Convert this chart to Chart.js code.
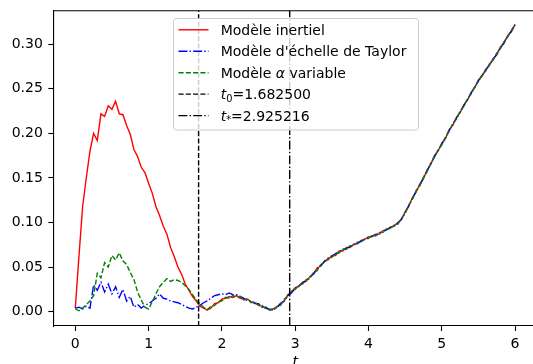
<!DOCTYPE html>
<html lang="fr">
<head>
    <meta charset="UTF-8">
    <title>Comparaison des modèles</title>
    <script src="https://cdn.jsdelivr.net/npm/chart.js"></script>
    <style>
        html, body { margin: 0; padding: 0; background: #fff; }
        #cadre { width: 533px; height: 364px; }
    </style>
</head>
<body>
    <div id="cadre"><canvas id="graphe" width="533" height="364"></canvas></div>

    <script>
        // Grille de temps : pas de 0.05 entre 0 et 6
        const t = Array.from({ length: 121 }, (_, i) => +(i * 0.05).toFixed(2));

        // Valeurs
        const inertiel = [
            0.004, 0.062, 0.118, 0.150, 0.180, 0.200, 0.192, 0.222, 0.219, 0.231,
            0.227, 0.236, 0.222, 0.221, 0.209, 0.199, 0.182, 0.174, 0.162, 0.156,
            0.144, 0.133, 0.118, 0.108, 0.096, 0.087, 0.072, 0.062, 0.050, 0.042,
            0.031, 0.024, 0.017, 0.012, 0.006, 0.004, 0.002,
            0.004, 0.009, 0.010, 0.014, 0.015, 0.017, 0.016, 0.018, 0.015, 0.014,
            0.014, 0.011, 0.010, 0.007, 0.006, 0.004, 0.002, 0.003, 0.005, 0.009,
            0.012, 0.019, 0.022, 0.027, 0.028, 0.033, 0.034, 0.039, 0.043, 0.049,
            0.051, 0.057, 0.058, 0.063, 0.063, 0.068, 0.068, 0.072, 0.072, 0.076,
            0.076, 0.080, 0.081, 0.084, 0.084, 0.087, 0.087, 0.091, 0.092, 0.095,
            0.096, 0.100, 0.103, 0.112, 0.118, 0.128, 0.134, 0.143, 0.149, 0.159,
            0.165, 0.175, 0.180, 0.189, 0.194, 0.204, 0.209, 0.218, 0.223, 0.232,
            0.237, 0.246, 0.251, 0.260, 0.264, 0.272, 0.276, 0.284, 0.288, 0.297,
            0.301, 0.310, 0.314, 0.322
        ];
        const taylor = [
            0.004, 0.005, 0.003, 0.006, 0.004, 0.030, 0.024, 0.033, 0.022, 0.031,
            0.020, 0.028, 0.016, 0.025, 0.012, 0.017, 0.005, 0.008, 0.004, 0.007,
            0.009, 0.012, 0.015, 0.020, 0.015, 0.014, 0.012, 0.011, 0.010, 0.008,
            0.006, 0.004, 0.003, 0.005, 0.007, 0.010, 0.012, 0.015, 0.018, 0.019,
            0.020, 0.019, 0.021, 0.019, 0.019,
            0.017, 0.015, 0.012, 0.012, 0.009, 0.009, 0.005, 0.005, 0.002, 0.003,
            0.004, 0.009, 0.012, 0.018, 0.021, 0.026, 0.029, 0.032, 0.035, 0.039,
            0.042, 0.048, 0.052, 0.056, 0.060, 0.062, 0.065, 0.067, 0.070, 0.071,
            0.073, 0.075, 0.077, 0.079, 0.081, 0.083, 0.085, 0.086, 0.088, 0.090,
            0.092, 0.094, 0.096, 0.099,
            0.104, 0.111, 0.119, 0.127, 0.135, 0.142, 0.150, 0.158, 0.166, 0.174,
            0.181, 0.188, 0.195, 0.203, 0.210, 0.217, 0.224, 0.231, 0.238, 0.245,
            0.252, 0.259, 0.265, 0.271, 0.277, 0.283, 0.289, 0.296, 0.302, 0.309,
            0.315, 0.322
        ];
        const alphaVariable = [
            0.003, 0.001, 0.004, 0.008, 0.012, 0.018, 0.043, 0.038, 0.055, 0.050,
            0.063, 0.058, 0.066, 0.057, 0.053, 0.044, 0.036, 0.022, 0.013, 0.005,
            0.003, 0.011, 0.020, 0.028, 0.033, 0.037, 0.034, 0.036, 0.035, 0.033,
            0.029, 0.025, 0.019, 0.013, 0.009, 0.005, 0.002,
            0.006, 0.007, 0.011, 0.012, 0.016, 0.015, 0.018, 0.016, 0.017, 0.013,
            0.014, 0.010, 0.011, 0.007, 0.007, 0.003, 0.003, 0.001, 0.006, 0.007,
            0.014, 0.017, 0.023, 0.025, 0.030, 0.031, 0.036, 0.037, 0.044, 0.046,
            0.053, 0.055, 0.060, 0.061, 0.065, 0.066, 0.070, 0.070, 0.074, 0.074,
            0.078, 0.078, 0.082, 0.082, 0.086, 0.085, 0.089, 0.089, 0.093, 0.093,
            0.097, 0.098, 0.105, 0.110, 0.120, 0.126, 0.136, 0.141, 0.151, 0.157,
            0.167, 0.173, 0.182, 0.187, 0.196, 0.202, 0.211, 0.216, 0.225, 0.230,
            0.239, 0.244, 0.253, 0.258, 0.266, 0.270, 0.278, 0.282, 0.290, 0.295,
            0.303, 0.308, 0.316, 0.322
        ];

        // Instants remarquables (lignes verticales)
        const t0 = 1.6825;
        const tEtoile = 2.925216;

        // Graduations
        const xTicks = [0, 1, 2, 3, 4, 5, 6];
        const yTicks = [0, 0.05, 0.10, 0.15, 0.20, 0.25, 0.30];

        // Styles de trait (équivalents matplotlib, lw = 1)
        const TIRET = [5.1, 2.2];
        const TIRET_POINT = [8.9, 2.2, 1.4, 2.2];
        const EP = 1.4;
        const POLICE = '"DejaVu Sans", sans-serif';
        const TAILLE = 14;

        const points = (serie) => serie.map((v, i) => ({ x: t[i], y: v }));

        // Écrit un texte en plusieurs morceaux (normal, italique, indice)
        function ecrire(ctx, morceaux, x, y) {
            for (const [txt, style] of morceaux) {
                if (style === 'ind') {
                    ctx.font = (TAILLE * 0.7) + 'px ' + POLICE;
                    ctx.fillText(txt, x, y + 2.6);
                } else {
                    ctx.font = (style === 'it' ? 'italic ' : '') + TAILLE + 'px ' + POLICE;
                    ctx.fillText(txt, x, y);
                }
                x += ctx.measureText(txt).width;
            }
        }

        const entreesLegende = [
            { couleur: '#ff0000', tirets: [], texte: [['Modèle inertiel', 'n']] },
            { couleur: '#0000ff', tirets: TIRET_POINT, texte: [["Modèle d'échelle de Taylor", 'n']] },
            { couleur: '#008000', tirets: TIRET, texte: [['Modèle ', 'n'], ['α', 'it'], [' variable', 'n']] },
            { couleur: '#000000', tirets: TIRET, texte: [['t', 'it'], ['0', 'ind'], ['=' + t0.toFixed(6), 'n']] },
            { couleur: '#000000', tirets: TIRET_POINT, texte: [['t', 'it'], ['*', 'ind'], ['=' + tEtoile.toFixed(6), 'n']] }
        ];

        const decor = {
            id: 'decor',
            afterDatasetsDraw(chart) {
                const { ctx, chartArea: a, scales: { x } } = chart;
                ctx.save();
                ctx.strokeStyle = '#000';
                ctx.lineWidth = EP;
                [[t0, TIRET], [tEtoile, TIRET_POINT]].forEach(([v, d]) => {
                    const px = x.getPixelForValue(v);
                    ctx.setLineDash(d);
                    ctx.beginPath();
                    ctx.moveTo(px, a.bottom);
                    ctx.lineTo(px, a.top);
                    ctx.stroke();
                });
                ctx.restore();
            },
            afterDraw(chart) {
                const { ctx, chartArea: a, scales: { x } } = chart;
                ctx.save();
                // bord supérieur
                ctx.strokeStyle = '#000';
                ctx.lineWidth = 1.1;
                ctx.beginPath();
                ctx.moveTo(a.left, a.top);
                ctx.lineTo(a.right, a.top);
                ctx.stroke();

                // légende
                ctx.fillStyle = 'rgba(255,255,255,0.8)';
                ctx.strokeStyle = '#cccccc';
                ctx.lineWidth = 1;
                ctx.beginPath();
                ctx.roundRect(173.5, 18.5, 245, 111.5, 3);
                ctx.fill();
                ctx.stroke();

                entreesLegende.forEach((e, i) => {
                    const yc = 29.8 + i * 21.45;
                    ctx.strokeStyle = e.couleur;
                    ctx.lineWidth = EP;
                    ctx.setLineDash(e.tirets);
                    ctx.beginPath();
                    ctx.moveTo(178.5, yc);
                    ctx.lineTo(208.5, yc);
                    ctx.stroke();
                    ctx.setLineDash([]);
                    ctx.fillStyle = '#000';
                    ctx.textBaseline = 'alphabetic';
                    ctx.textAlign = 'left';
                    ecrire(ctx, e.texte, 220.7, yc + 5);
                });

                // titre de l'axe des abscisses
                ctx.fillStyle = '#000';
                ctx.font = 'italic ' + TAILLE + 'px ' + POLICE;
                ctx.textAlign = 'center';
                ctx.textBaseline = 'alphabetic';
                ctx.fillText('t', x.getPixelForValue(3), 366);
                ctx.restore();
            }
        };

        const ctx = document.getElementById('graphe').getContext('2d');
        const graphe = new Chart(ctx, {
            type: 'line',
            data: {
                datasets: [
                    {
                        label: 'Modèle inertiel',
                        data: points(inertiel),
                        borderColor: '#ff0000',
                        borderWidth: EP,
                        order: 3
                    },
                    {
                        label: "Modèle d'échelle de Taylor",
                        data: points(taylor),
                        borderColor: '#0000ff',
                        borderWidth: EP,
                        borderDash: TIRET_POINT,
                        order: 2
                    },
                    {
                        label: 'Modèle α variable',
                        data: points(alphaVariable),
                        borderColor: '#008000',
                        borderWidth: EP,
                        borderDash: TIRET,
                        order: 1
                    }
                ]
            },
            options: {
                responsive: false,
                animation: false,
                devicePixelRatio: 1,
                elements: { point: { radius: 0 }, line: { tension: 0, fill: false } },
                layout: { padding: { top: 10.7, right: 0, left: 0, bottom: 0 } },
                plugins: { legend: { display: false }, tooltip: { enabled: false } },
                scales: {
                    x: {
                        type: 'linear',
                        min: -0.3,
                        max: 6.245,
                        afterBuildTicks: (s) => { s.ticks = xTicks.map(v => ({ value: v })); },
                        afterFit: (s) => { s.height = 38; s.paddingLeft = 0; s.paddingRight = 0; },
                        grid: { drawOnChartArea: false, tickLength: 5, tickWidth: 1.1, tickColor: '#000' },
                        border: { display: true, color: '#000', width: 1.1 },
                        ticks: {
                            color: '#000',
                            padding: 5,
                            maxRotation: 0,
                            font: { family: POLICE, size: TAILLE },
                            callback: (v) => String(v)
                        }
                    },
                    y: {
                        type: 'linear',
                        min: -0.0161,
                        max: 0.3377,
                        afterBuildTicks: (s) => { s.ticks = yTicks.map(v => ({ value: v })); },
                        afterFit: (s) => { s.width = 53.3; s.paddingTop = 0; s.paddingBottom = 0; },
                        grid: { drawOnChartArea: false, tickLength: 5, tickWidth: 1.1, tickColor: '#000' },
                        border: { display: true, color: '#000', width: 1.1 },
                        ticks: {
                            color: '#000',
                            padding: 5.5,
                            font: { family: POLICE, size: TAILLE },
                            callback: (v) => v.toFixed(2)
                        }
                    }
                }
            },
            plugins: [decor]
        });
    </script>
</body>
</html>
